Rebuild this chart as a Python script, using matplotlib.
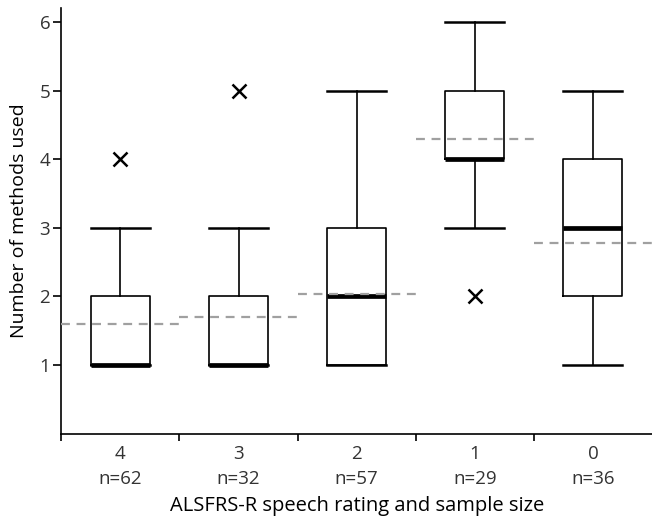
import matplotlib.pyplot as plt

# ALSFRS-R speech rating categories and box stats
ratings = ["4", "3", "2", "1", "0"]
sizes = [62, 32, 57, 29, 36]
whis_lo = [1, 1, 1, 3, 1]
q1 = [1, 1, 1, 4, 2]
medians = [1, 1, 2, 4, 3]
q3 = [2, 2, 3, 5, 4]
whis_hi = [3, 3, 5, 6, 5]
outliers = [[4], [5], [], [2], []]
means = [1.60, 1.70, 2.03, 4.29, 2.78]

plt.rcParams['font.family'] = ['Open Sans', 'DejaVu Sans']

fig = plt.figure(figsize=(6.52, 5.23), dpi=100)
ax = fig.add_axes([0.094, 0.171, 0.906, 0.813])

stats = []
for i in range(len(ratings)):
    stats.append(dict(whislo=whis_lo[i], q1=q1[i], med=medians[i], q3=q3[i],
                      whishi=whis_hi[i], fliers=outliers[i]))

pos = list(range(len(ratings)))
ax.bxp(stats, positions=pos, widths=0.5, capwidths=0.5, showfliers=True,
       boxprops=dict(color='black', linewidth=1.2),
       whiskerprops=dict(color='black', linewidth=1.2),
       capprops=dict(color='black', linewidth=1.8),
       medianprops=dict(color='black', linewidth=3.4, solid_capstyle='butt'),
       flierprops=dict(marker='x', markersize=10, markeredgecolor='black',
                       markeredgewidth=1.8, linestyle='none'))

# mean lines across each category band
for i, m in enumerate(means):
    ax.plot([i - 0.5, i + 0.5], [m, m], color='#a0a0a0', linestyle=(0, (4, 3)),
            linewidth=1.6, zorder=3)

ax.set_xlim(-0.5, 4.5)
ax.set_ylim(0, 6.2)
ax.set_yticks([1, 2, 3, 4, 5, 6])
ax.set_xticks([p - 0.5 for p in pos])
ax.set_xticklabels([])
ax.set_xticks(pos, minor=True)
ax.set_xticklabels([f"{r}\nn={n}" for r, n in zip(ratings, sizes)], minor=True,
                   fontsize=13.5, color='#333333', linespacing=1.5)
ax.tick_params(axis='x', which='minor', length=0, pad=8)
ax.tick_params(axis='x', which='major', length=5, width=1.2)
ax.tick_params(axis='y', length=6, width=1.2, pad=2, labelsize=13.5,
               labelcolor='#333333')

for s in ['top', 'right']:
    ax.spines[s].set_visible(False)
for s in ['left', 'bottom']:
    ax.spines[s].set_linewidth(1.2)

ax.set_ylabel("Number of methods used", fontsize=14, labelpad=8)
ax.set_xlabel("ALSFRS-R speech rating and sample size", fontsize=14.5, labelpad=6)

fig.savefig("out.png", dpi=100)
